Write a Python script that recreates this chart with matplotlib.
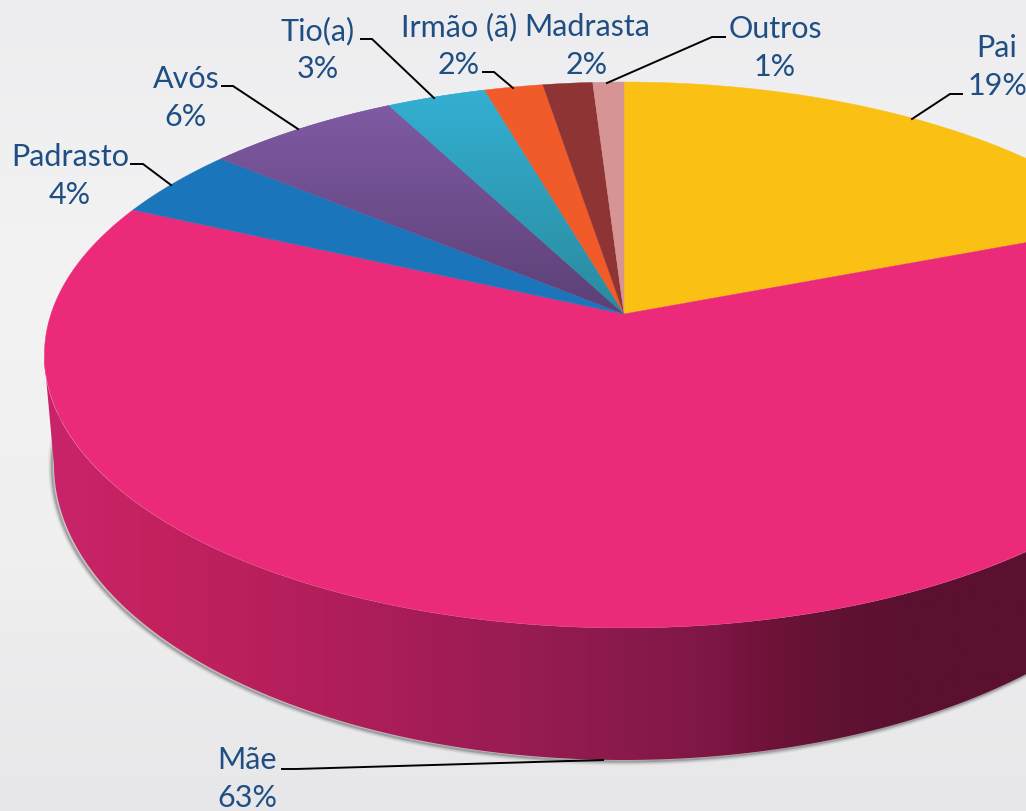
import numpy as np
import matplotlib
matplotlib.use("Agg")
import matplotlib.pyplot as plt
from matplotlib.colors import LinearSegmentedColormap
from matplotlib.patches import Polygon

# slice order is clockwise from 12 o'clock
labels = ["Pai", "Mãe", "Padrasto", "Avós", "Tio(a)", "Irmão (ã)", "Madrasta", "Outros"]
values = [19.2, 62.6, 4.2, 6.3, 3.2, 1.9, 1.6, 1.0]
top_colors = ["#FBC014", "#EB2A7A", "#1B75BB", "#7F5AA3", "#33AFD2", "#F15A29", "#8F3434", "#D69494"]
low_colors = ["#FBC014", "#EB2A7A", "#1B75BB", "#5C4076", "#2A8A9E", "#F15A29", "#8F3434", "#D69494"]

TEXT_COLOR = "#1F4E83"
W, H = 1026, 811

# pie geometry in pixels: the disc is a circle seen in perspective
CX, CY = 624, 314
RX, RY, PERSP = 573, 266.8, 0.15
# lower rim of the disc
BX, BY, BCY = 570, 295, 465

# text centre, then the leader line running to the slice
layout = {
    "Pai": ((997, 67), [(962, 94), (950, 94), (912, 119)]),
    "Mãe": ((247, 779), [(282, 769), (296, 769), (603, 760)]),
    "Padrasto": ((70, 176), [(131, 164), (143, 164), (171, 185)]),
    "Avós": ((186, 98), [(222, 86), (233, 86), (298, 129)]),
    "Tio(a)": ((318, 50), [(361, 39), (372, 39), (434, 98)]),
    "Irmão (ã)": ((459, 46), [(483, 72), (494, 72), (513, 88)]),
    "Madrasta": ((587, 46), None),
    "Outros": ((775, 48), [(725, 37), (712, 37), (607, 83)]),
}


def disc_point(angle):
    # angle in radians, clockwise from the top
    u, v = np.sin(angle), np.cos(angle)
    w = 1 + PERSP * v
    return CX + RX * u / w, CY - RY * v / w


fig = plt.figure(figsize=(W / 100, H / 100), dpi=100)
ax = fig.add_axes([0, 0, 1, 1])

# background
bg = LinearSegmentedColormap.from_list("bg", ["#EDEDEF", "#F3F3F4", "#F0F0F1", "#E7E7E9"])
ax.imshow(np.linspace(0, 1, 256).reshape(-1, 1), cmap=bg, extent=(0, W, H, 0), aspect="auto", zorder=0)

# soft shadow under the rim
t = np.linspace(0, 2 * np.pi, 720)
rim_x = CX + BX * np.cos(t)
rim_y = BCY + BY * np.sin(t)
for lw, a in [(8, 0.05), (6, 0.08), (4, 0.12), (2, 0.22)]:
    ax.plot(rim_x - 2, rim_y + 1.5, color="#303030", lw=lw * 0.72, alpha=a, zorder=1)

# side wall, shaded from left to right
wall = LinearSegmentedColormap.from_list(
    "wall",
    [(0.0, "#C9246A"), (0.09, "#C4225F"), (0.31, "#A81D58"), (0.5, "#8A1A4C"), (0.57, "#7F1745"),
     (0.63, "#6E1238"), (0.69, "#5F1232"), (0.74, "#5C1030"), (1.0, "#5C1030")],
)
t = np.linspace(0, np.pi, 400)
top_x = CX + 580 * np.cos(t)
top_y = 355 + 273 * np.sin(t)
low_x = CX + BX * np.cos(t)
low_y = BCY + BY * np.sin(t)
wall_pts = np.column_stack([np.r_[top_x, low_x[::-1]], np.r_[top_y, low_y[::-1]]])
wall_poly = Polygon(wall_pts, closed=True, facecolor="none", edgecolor="none", zorder=2)
ax.add_patch(wall_poly)
im = ax.imshow(np.linspace(0, 1, 512).reshape(1, -1), cmap=wall, extent=(44, 1204, H, 0), aspect="auto", zorder=2)
im.set_clip_path(wall_poly)

# top face
grad = np.linspace(0, 1, 128).reshape(-1, 1)
start = 0.0
total = sum(values)
for value, c_top, c_low in zip(values, top_colors, low_colors):
    stop = start + value / total * 2 * np.pi
    a = np.linspace(start, stop, max(int(value * 12), 8))
    px, py = disc_point(a)
    pts = np.column_stack([np.r_[CX, px], np.r_[CY, py]])
    poly = Polygon(pts, closed=True, facecolor=c_top, edgecolor=c_top, lw=0.3, zorder=3)
    ax.add_patch(poly)
    if c_top != c_low:
        cmap = LinearSegmentedColormap.from_list("s", [c_top, c_low])
        im = ax.imshow(grad, cmap=cmap, extent=(0, W, CY, py.min()), aspect="auto", zorder=3.1)
        im.set_clip_path(poly)
    start = stop

# labels and leader lines
for name, value in zip(labels, values):
    (tx, ty), leader = layout[name]
    ax.text(tx, ty, f"{name}\n{round(value)}%", ha="center", va="center", fontsize=22,
            family=["Lato", "DejaVu Sans"], color=TEXT_COLOR, linespacing=1.42, zorder=5)
    if leader:
        lx, ly = zip(*leader)
        ax.plot(lx, ly, color="black", lw=1.4, solid_joinstyle="miter", zorder=4)

ax.set_xlim(0, W)
ax.set_ylim(H, 0)
ax.axis("off")
fig.savefig("out.png", dpi=100)
